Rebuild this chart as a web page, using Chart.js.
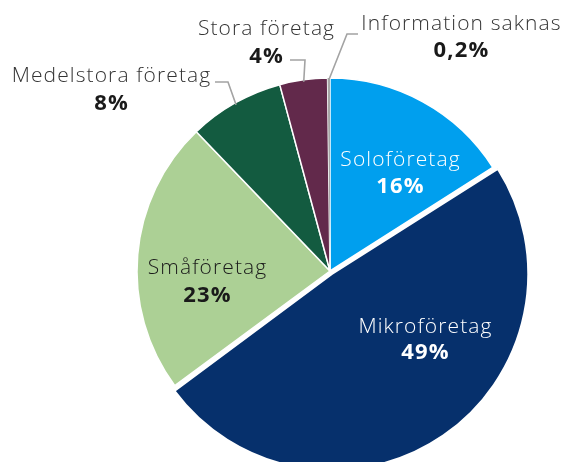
<!DOCTYPE html>
<html>
<head>
<meta charset="utf-8">
<script src="https://cdn.jsdelivr.net/npm/chart.js@4/dist/chart.umd.min.js"></script>
<style>
  html, body { margin: 0; padding: 0; background: #fff; }
  #wrap { width: 562px; height: 462px; }
</style>
</head>
<body>
<div id="wrap"><canvas id="grafica" width="562" height="462"></canvas></div>
<script>
// data
const kategorier = ['Soloföretag', 'Mikroföretag', 'Småföretag', 'Medelstora företag', 'Stora företag', 'Information saknas'];
const andelar = [16, 49, 23, 8, 4, 0.2];
const etiketter = ['16%', '49%', '23%', '8%', '4%', '0,2%'];

const farger = ['#009fee', '#06306c', '#acd095', '#135b40', '#62294b', '#a6a6a6'];
const textFarg = ['#ffffff', '#ffffff', '#1a1a1a', '#1a1a1a', '#1a1a1a', '#1a1a1a'];

// label layout: name baseline, percent baseline, center x. leader = elbow point + horizontal end
const layout = [
    { x: 400, yNamn: 166, yPct: 193 },
    { x: 425, yNamn: 333, yPct: 359 },
    { x: 207, yNamn: 274, yPct: 302 },
    { x: 111, yNamn: 82, yPct: 110, armbage: [228, 82], slut: 215 },
    { x: 266, yNamn: 35, yPct: 63, armbage: [305, 60], slut: 290 },
    { x: 461, yNamn: 30, yPct: 57, armbage: [347, 34], slut: 358 }
];

const etikettPlugin = {
    id: 'etiketter',
    afterDatasetsDraw(chart) {
        const ctx = chart.ctx;
        const arcs = chart.getDatasetMeta(0).data;
        ctx.save();
        arcs.forEach((arc, i) => {
            const l = layout[i];
            if (l.armbage) {
                const mid = (arc.startAngle + arc.endAngle) / 2;
                const x0 = arc.x + Math.cos(mid) * (arc.outerRadius - 2);
                const y0 = arc.y + Math.sin(mid) * (arc.outerRadius - 2);
                ctx.strokeStyle = '#a3a3a3';
                ctx.lineWidth = 1.6;
                ctx.beginPath();
                ctx.moveTo(x0, y0);
                ctx.lineTo(l.armbage[0], l.armbage[1]);
                ctx.lineTo(l.slut, l.armbage[1]);
                ctx.stroke();
            }
            ctx.textAlign = 'center';
            ctx.textBaseline = 'alphabetic';
            ctx.fillStyle = i < 3 ? textFarg[i] : '#333333';
            ctx.font = '300 21px "Open Sans"';
            ctx.letterSpacing = '1.1px';
            ctx.fillText(kategorier[i], l.x + 0.5, l.yNamn);
            ctx.fillStyle = textFarg[i];
            ctx.font = 'bold 22px "Open Sans"';
            ctx.letterSpacing = '1.2px';
            ctx.fillText(etiketter[i], l.x + 0.6, l.yPct);
        });
        ctx.restore();
    }
};

const ctx = document.getElementById('grafica').getContext('2d');
new Chart(ctx, {
    type: 'pie',
    data: {
        labels: kategorier,
        datasets: [{
            data: andelar,
            backgroundColor: farger,
            borderColor: '#ffffff',
            borderWidth: [1.5, 2, 1.5, 1.5, 1.5, 0],
            offset: [0, 14, 0, 0, 0, 0],
            radius: 193
        }]
    },
    options: {
        responsive: false,
        animation: false,
        layout: { padding: { left: 98, right: 0, top: 80, bottom: 0 } },
        plugins: {
            legend: { display: false },
            tooltip: { enabled: false }
        }
    },
    plugins: [etikettPlugin]
});
</script>
</body>
</html>
